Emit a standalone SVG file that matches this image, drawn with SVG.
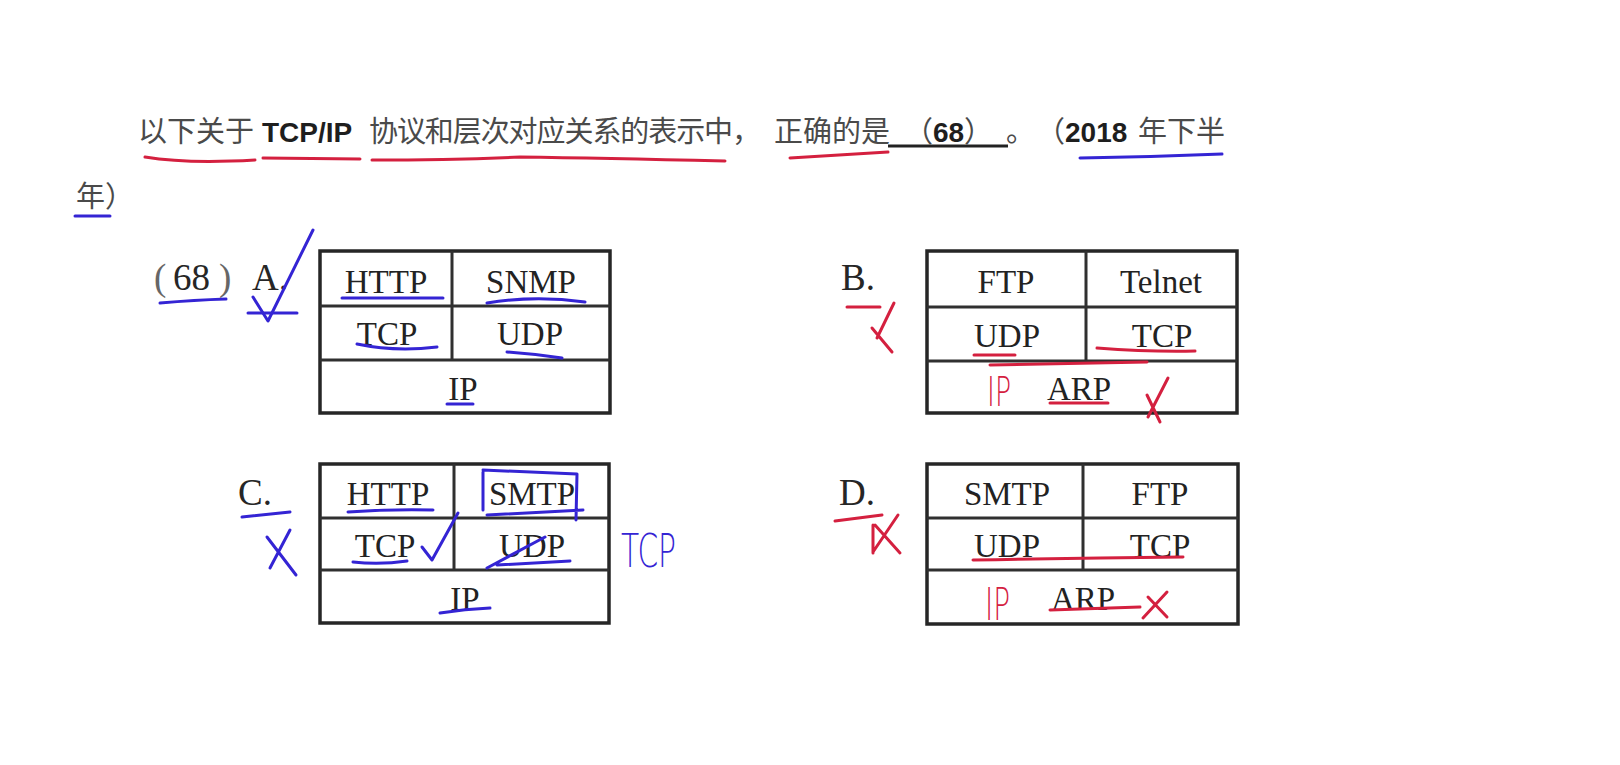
<svg xmlns="http://www.w3.org/2000/svg" width="1620" height="765" viewBox="0 0 1620 765">
<style>
.bg{fill:#ffffff}
.cjk{font-family:"Noto Sans CJK SC","Liberation Sans",sans-serif;font-size:29px;fill:#4a4a4a}
.lat{font-family:"Liberation Sans","Noto Sans CJK SC",sans-serif;font-size:28px;fill:#1e1e1e}
.cell{font-family:"Liberation Serif","Noto Sans CJK SC",serif;font-size:33px;fill:#222222;text-anchor:middle}
.lbl{font-family:"Liberation Serif","Noto Sans CJK SC",serif;font-size:37px;fill:#262626}
.tbl{fill:none;stroke:#262626;stroke-width:3.5}
.div{stroke:#303030;stroke-width:3;fill:none}
.blue{fill:none;stroke:#3424d4;stroke-width:3;stroke-linecap:round;stroke-linejoin:round}
.red{fill:none;stroke:#d4203f;stroke-width:3;stroke-linecap:round;stroke-linejoin:round}
.hwb{font-family:"DejaVu Sans",sans-serif;font-weight:200;fill:#3424d4}
.hwr{font-family:"DejaVu Sans",sans-serif;font-weight:200;fill:#d4203f}
</style>
<rect class="bg" x="0" y="0" width="1620" height="765"/>

<g id="question">
  <text class="cjk" x="138" y="142">以下关于</text>
  <text class="lat" x="262" y="142" font-size="30" font-weight="bold" fill="#2a2a2a">TCP/IP</text>
  <text class="cjk" x="369" y="142" textLength="392" lengthAdjust="spacing">协议和层次对应关系的表示中，</text>
  <text class="cjk" x="774" y="142">正确的是</text>
  <line x1="888" y1="146" x2="1008" y2="146" stroke="#222" stroke-width="3"/>
  <text class="cjk" x="904" y="142" fill="#555">（</text>
  <text class="lat" x="933" y="142" font-weight="bold" fill="#2a2a2a">68</text>
  <text class="cjk" x="964" y="142" fill="#555">）</text>
  <text class="cjk" x="1006" y="142">。</text>
  <text class="cjk" x="1036" y="142">（</text>
  <text class="lat" x="1065" y="142" font-weight="bold" fill="#2a2a2a">2018</text>
  <text class="cjk" x="1138" y="142">年下半</text>
  <text class="cjk" x="76" y="207">年）</text>
  <path class="red" d="M145,157 Q187,164 255,160"/>
  <path class="red" d="M263,158 L360,159"/>
  <path class="red" d="M372,160 Q450,160 520,157 Q600,158 725,161"/>
  <path class="red" d="M790,158 L888,152"/>
  <path class="blue" d="M1080,158 Q1150,157 1222,154"/>
  <path class="blue" d="M75,216 L110,216"/>
</g>

<g id="option-a">
  <text class="lbl" y="290"><tspan x="154" fill="#666">(</tspan><tspan x="173">68</tspan><tspan x="219" fill="#666">)</tspan></text>
  <text class="lbl" x="252" y="290">A.</text>
  <rect class="tbl" x="320" y="251" width="290" height="162"/>
  <path class="div" d="M320,306 H610 M320,360 H610 M452,251 V360"/>
  <text class="cell" x="386" y="293">HTTP</text>
  <text class="cell" x="531" y="293">SNMP</text>
  <text class="cell" x="387" y="345">TCP</text>
  <text class="cell" x="530" y="345">UDP</text>
  <text class="cell" x="463" y="400">IP</text>
  <path class="blue" d="M160,303 Q195,300 226,299"/>
  <path class="blue" d="M253,297 L268,321 L313,230"/>
  <path class="blue" d="M248,313 L297,313"/>
  <path class="blue" d="M342,298 L443,298"/>
  <path class="blue" d="M487,303 Q535,295 585,302"/>
  <path class="blue" d="M357,344 Q395,352 437,347"/>
  <path class="blue" d="M507,352 Q535,354 562,358"/>
  <path class="blue" d="M447,404 L473,404"/>
</g>

<g id="option-b">
  <text class="lbl" x="841" y="290">B.</text>
  <rect class="tbl" x="927" y="251" width="310" height="162"/>
  <path class="div" d="M927,307 H1237 M927,361 H1237 M1086,251 V361"/>
  <text class="cell" x="1006" y="293">FTP</text>
  <text class="cell" x="1161" y="293">Telnet</text>
  <text class="cell" x="1007" y="347">UDP</text>
  <text class="cell" x="1162" y="347">TCP</text>
  <text class="cell" x="1079" y="400">ARP</text>
  <path class="red" d="M847,307 L880,307"/>
  <path class="red" d="M894,303 L877,338 M872,328 L892,352"/>
  <path class="red" d="M974,355 L1015,355"/>
  <path class="red" d="M990,365 L1147,362"/>
  <path class="red" d="M1097,348 Q1150,352 1195,351"/>
  <path class="red" d="M1050,403 L1108,403"/>
  <path class="red" d="M1168,378 L1148,417 M1147,395 L1160,422"/>
  <text class="hwr" x="987" y="406" font-size="40" textLength="24" lengthAdjust="spacingAndGlyphs">IP</text>
</g>

<g id="option-c">
  <text class="lbl" x="238" y="505">C.</text>
  <rect class="tbl" x="320" y="464" width="289" height="159"/>
  <path class="div" d="M320,518 H609 M320,570 H609 M454,464 V570"/>
  <text class="cell" x="388" y="505">HTTP</text>
  <text class="cell" x="532" y="505">SMTP</text>
  <text class="cell" x="385" y="557">TCP</text>
  <text class="cell" x="532" y="557">UDP</text>
  <text class="cell" x="465" y="610">IP</text>
  <path class="blue" d="M242,517 L290,512"/>
  <path class="blue" d="M290,530 L270,568 M267,537 L296,575"/>
  <path class="blue" d="M348,512 Q390,509 433,510"/>
  <path class="blue" d="M483,472 L483,510 M483,470 L577,474 L576,520 M487,515 L583,510"/>
  <path class="blue" d="M353,562 Q380,565 407,561"/>
  <path class="blue" d="M422,547 L432,560 L458,513"/>
  <path class="blue" d="M487,568 L545,537 M497,565 Q535,563 570,561"/>
  <path class="blue" d="M440,613 Q465,609 490,608"/>
  <text class="hwb" x="621" y="567" font-size="46" textLength="55" lengthAdjust="spacingAndGlyphs">TCP</text>
</g>

<g id="option-d">
  <text class="lbl" x="839" y="505">D.</text>
  <rect class="tbl" x="927" y="464" width="311" height="160"/>
  <path class="div" d="M927,518 H1238 M927,570 H1238 M1083,464 V570"/>
  <text class="cell" x="1007" y="505">SMTP</text>
  <text class="cell" x="1160" y="505">FTP</text>
  <text class="cell" x="1007" y="557">UDP</text>
  <text class="cell" x="1160" y="557">TCP</text>
  <text class="cell" x="1083" y="610">ARP</text>
  <path class="red" d="M835,521 L882,515"/>
  <path class="red" d="M898,515 L873,552 M875,525 L900,553 M873,525 L873,553"/>
  <path class="red" d="M973,560 Q1080,558 1183,557"/>
  <path class="red" d="M1050,610 L1140,607"/>
  <path class="red" d="M1167,592 L1143,618 M1148,597 L1167,617"/>
  <text class="hwr" x="985" y="620" font-size="44" textLength="25" lengthAdjust="spacingAndGlyphs">IP</text>
</g>
</svg>
